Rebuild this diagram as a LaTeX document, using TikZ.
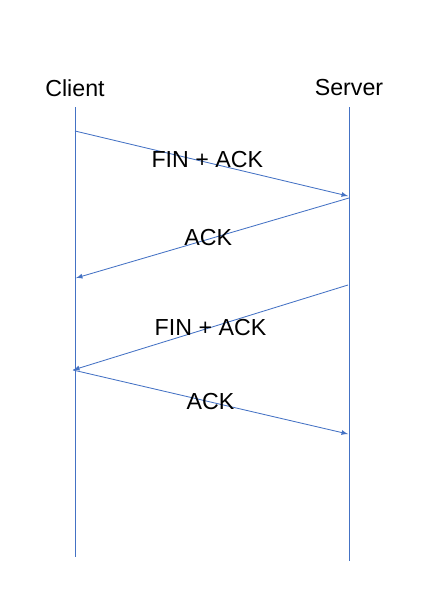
\documentclass[tikz,border=0pt]{standalone}
\usepackage{fontspec}
\setmainfont{Liberation Sans}
\definecolor{msgblue}{RGB}{68,114,196}
\begin{document}
\begin{tikzpicture}[x=0.025cm, y=-0.025cm, >=latex, font=\fontsize{16.5}{19}\selectfont,
    msg/.style={->, draw=msgblue, line width=0.6pt},
    life/.style={draw=msgblue, line width=0.6pt}]

        \useasboundingbox (0,0) rectangle (434,599);

        % --- Intestazioni (Client, Server) ---
        \node (client) at (75,88) {Client};
        \node (server) at (349,88) {Server};

        % --- Linee di vita ---
        \coordinate (cTop) at (75,107);
        \coordinate (cBot) at (75,557);
        \coordinate (sTop) at (349,107);
        \coordinate (sBot) at (349,561);
        \draw[life] (cTop) -- (cBot);
        \draw[life] (sTop) -- (sBot);

        % --- Estremi dei messaggi ---
        \coordinate (c1) at (75,131);
        \coordinate (s1) at (348,196);
        \coordinate (s2) at (349,198);
        \coordinate (c2) at (76,278);
        \coordinate (s3) at (348,285);
        \coordinate (c3) at (73,370);
        \coordinate (c4) at (73,370);
        \coordinate (s4) at (348,434);

        % --- Messaggi ---
        \draw[msg] (c1) -- node[midway, xshift=-3, yshift=3] {FIN + ACK} (s1);
        \draw[msg] (s2) -- node[midway, xshift=-3] {ACK} (c2);
        \draw[msg] (s3) -- node[midway] {FIN + ACK} (c3);
        \draw[msg] (c4) -- node[midway] {ACK} (s4);

    \end{tikzpicture}
\end{document}
